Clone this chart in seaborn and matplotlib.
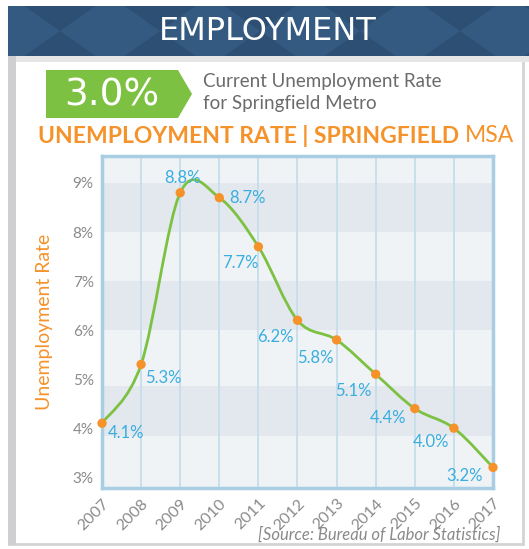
import matplotlib.pyplot as plt
import numpy as np
import pandas as pd
import seaborn as sns
from matplotlib.patches import Rectangle, Polygon, PathPatch
from matplotlib.path import Path

sns.set_theme(style="white")
plt.rcParams["font.family"] = ["Lato", "DejaVu Sans"]

# ---- data ----
years = [2007, 2008, 2009, 2010, 2011, 2012, 2013, 2014, 2015, 2016, 2017]
rates = [4.1, 5.3, 8.8, 8.7, 7.7, 6.2, 5.8, 5.1, 4.4, 4.0, 3.2]
y_ticks = [3, 4, 5, 6, 7, 8, 9]
current_rate = "3.0%"

df = pd.DataFrame({"year": years, "rate": rates})

# colours
NAVY = "#2c4f73"
NAVY_LIGHT = "#3b628b"
GREEN = "#7dc143"
ORANGE = "#f5922a"
LABEL_BLUE = "#3aaede"
GRID_BLUE = "#c3dceb"
GREY_TXT = "#8a8a8a"

W, H = 529, 549
fig = plt.figure(figsize=(W / 100, H / 100), dpi=100)

# ---- background / header (pixel coordinates) ----
bg = fig.add_axes([0, 0, 1, 1])
bg.set_xlim(0, W)
bg.set_ylim(H, 0)
bg.axis("off")
bg.add_patch(Rectangle((9, 56), 514, 488, facecolor="white", edgecolor="#d4d4d4", lw=2))
bg.add_patch(Rectangle((8, 56), 8, 489, facecolor="#cfcfd1", edgecolor="none"))
banner = Rectangle((8, 6), 521, 50, facecolor=NAVY, edgecolor="none")
bg.add_patch(banner)
# diamond pattern in the banner
for cx in range(10, 560, 100):
    d = Polygon([(cx, 6 - 10), (cx + 50, 31), (cx, 66), (cx - 50, 31)],
                closed=True, facecolor=NAVY_LIGHT, edgecolor="none", alpha=0.6)
    bg.add_patch(d)
    d.set_clip_path(banner)
bg.add_patch(Rectangle((16, 56), 513, 6, facecolor="#e6e6e6", edgecolor="none"))
bg.text(268, 32, "EMPLOYMENT", color="white", fontsize=23, ha="center", va="center",
        family="DejaVu Sans")

# green tag
bg.add_patch(Polygon([(46, 70), (178, 70), (192, 94), (178, 118), (46, 118)],
                     closed=True, facecolor=GREEN, edgecolor="none"))
bg.text(112, 96, current_rate, color="white", fontsize=27, ha="center", va="center",
        family="DejaVu Sans")
bg.text(203, 81, "Current Unemployment Rate", color="#6b6b6b", fontsize=13.5, ha="left", va="center")
bg.text(203, 104, "for Springfield Metro", color="#6b6b6b", fontsize=13.5, ha="left", va="center")

t1 = bg.text(38, 136, "UNEMPLOYMENT RATE | SPRINGFIELD", color=ORANGE, fontsize=16.5,
             fontweight="bold", ha="left", va="center")
fig.canvas.draw()
bb = t1.get_window_extent().transformed(bg.transData.inverted())
bg.text(bb.x1 + 6, 136, "MSA", color=ORANGE, fontsize=16.5, ha="left", va="center")

bg.text(500, 535, "[Source: Bureau of Labor Statistics]", color=GREY_TXT, fontsize=12,
        style="italic", ha="right", va="center")

# ---- chart ----
ax = fig.add_axes([102 / W, 1 - 488 / H, (493 - 102) / W, (488 - 156) / H])
ax.set_facecolor("#eff3f6")
ax.set_xlim(2007, 2017)
ax.set_ylim(2.78, 9.55)

for lo, hi in [(8, 9), (6, 7), (3.85, 4.85)]:
    ax.axhspan(lo, hi, color="#e2e8ee", zorder=0, lw=0)
for yr in years:
    ax.axvline(yr, color=GRID_BLUE, lw=1.2, zorder=1)

for s in ax.spines.values():
    s.set_color("#a9cde3")
    s.set_linewidth(2.5)

# smooth curve through the data points (Catmull-Rom as cubic Bezier segments)
pts = np.column_stack([years, rates]).astype(float)
ext = np.vstack([pts[0], pts, pts[-1]])
verts = [tuple(pts[0])]
codes = [Path.MOVETO]
for i in range(len(pts) - 1):
    p0, p1, p2, p3 = ext[i], ext[i + 1], ext[i + 2], ext[i + 3]
    c1 = p1 + (p2 - p0) / 6
    c2 = p2 - (p3 - p1) / 6
    verts += [tuple(c1), tuple(c2), tuple(p2)]
    codes += [Path.CURVE4] * 3
ax.add_patch(PathPatch(Path(verts, codes), facecolor="none", edgecolor=GREEN, lw=2, zorder=3))

sns.scatterplot(data=df, x="year", y="rate", ax=ax, color=ORANGE, s=45,
                edgecolor="none", zorder=4, clip_on=False)

# value labels (offsets in points)
offsets = {
    2007: (4, -7, "left"), 2008: (3, -10, "left"), 2009: (2, 11, "center"),
    2010: (7, 0, "left"), 2011: (0, -12, "right"), 2012: (-3, -12, "right"),
    2013: (-2, -13, "right"), 2014: (-3, -12, "right"), 2015: (-6, -7, "right"),
    2016: (-3, -10, "right"), 2017: (-7, -6, "right"),
}
for yr, r in zip(years, rates):
    dx, dy, ha = offsets[yr]
    ax.annotate(f"{r:.1f}%", (yr, r), xytext=(dx, dy), textcoords="offset points",
                ha=ha, va="center", color=LABEL_BLUE, fontsize=12, zorder=5)

ax.set_yticks(y_ticks)
ax.set_yticklabels([f"{t}%" for t in y_ticks], color=GREY_TXT, fontsize=11)
ax.set_xticks(years)
ax.set_xticklabels([str(y) for y in years], rotation=45, ha="right",
                   rotation_mode="anchor", color=GREY_TXT, fontsize=11.5)
ax.tick_params(axis="both", length=0, pad=6)
ax.set_xlabel("")
ax.set_ylabel("Unemployment Rate", color=ORANGE, fontsize=14, labelpad=14)

fig.savefig("out.png", dpi=100)
